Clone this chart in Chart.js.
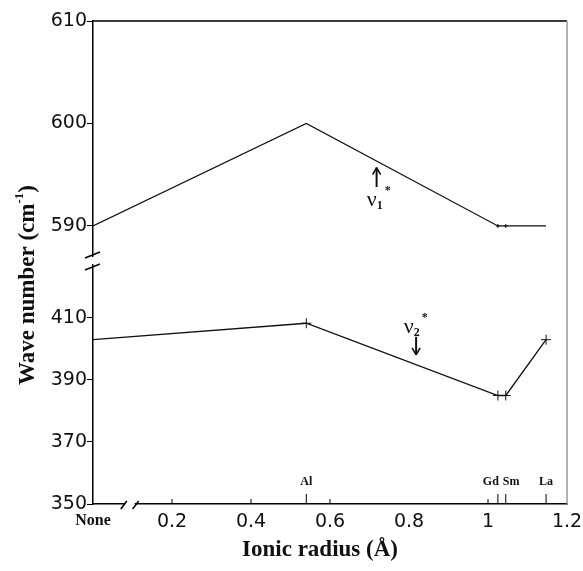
<!DOCTYPE html>
<html><head><meta charset="utf-8">
<script src="https://cdn.jsdelivr.net/npm/chart.js@4/dist/chart.umd.min.js"></script>
<style>html,body{margin:0;padding:0;background:#fff;}#wrap{width:583px;height:571px;position:relative;}</style>
</head><body><div id="wrap"><canvas id="c"></canvas></div>
<script>
// ---- data ----
const ionNames = ["None", "Al", "Gd", "Sm", "La"];
const ionicRadius = [0, 0.54, 1.025, 1.045, 1.147];
const nu1Values = [590, 600, 590, 590, 590];
const nu2Values = [403, 408.3, 385, 385, 403];
const xTickValues = [0, 0.2, 0.4, 0.6, 0.8, 1.0, 1.2];
const xTickLabels = ["None", "0.2", "0.4", "0.6", "0.8", "1", "1.2"];
const innerTicks = [0.2, 0.4, 0.6, 1.0];
const yTopTicks = [590, 600, 610];
const yBottomTicks = [350, 370, 390, 410];
const ionLabelAlign = ["center", "center", "right", "left", "center"];
const xTitle = "Ionic radius (Å)";
const yTitle = ["Wave number (cm", "-1", ")"];

const BLACK = '#111';
const numFont = {family: 'DejaVu Sans', size: 19, weight: 'normal'};

function line(ctx, x1, y1, x2, y2) { ctx.beginPath(); ctx.moveTo(x1, y1); ctx.lineTo(x2, y2); ctx.stroke(); }

function drawNu(ctx, px, py, sub) {
  ctx.fillStyle = BLACK;
  ctx.textAlign = 'left'; ctx.textBaseline = 'alphabetic';
  ctx.font = '22px "Liberation Serif"';
  ctx.fillText('ν', px, py + 6);
  const w = ctx.measureText('ν').width;
  ctx.font = 'bold 12px "Liberation Serif"';
  ctx.fillText(sub, px + w, py + 9);
  const w2 = ctx.measureText(sub).width;
  ctx.fillText('*', px + w + w2 + 2, py - 6);
}
function arrow(ctx, x, y1, y2) {
  ctx.strokeStyle = BLACK; ctx.lineWidth = 2;
  line(ctx, x, y1, x, y2);
  const d = y2 > y1 ? -1 : 1;
  ctx.lineWidth = 1.6;
  line(ctx, x, y2, x - 4, y2 + d * 7);
  line(ctx, x, y2, x + 4, y2 + d * 7);
}

const deco = {
  id: 'deco',
  afterDraw(chart) {
    const {ctx, chartArea: a, scales} = chart;
    const x = scales.x, yT = scales.yTop, yB = scales.yBot;
    ctx.save();
    ctx.strokeStyle = '#000'; ctx.lineWidth = 1.5;
    line(ctx, a.left, a.top, a.right, a.top);
    ctx.strokeStyle = '#9a9a9a'; ctx.lineWidth = 1.5;
    line(ctx, a.right, a.top, a.right, a.bottom);
    // y-axis break
    const by = yT.bottom;
    ctx.fillStyle = '#fff'; ctx.fillRect(a.left - 3, by - 3, 6, 7);
    ctx.strokeStyle = '#000'; ctx.lineWidth = 1.5;
    [by - 5, by + 7].forEach(c => line(ctx, a.left - 8, c + 3, a.left + 7, c - 3));
    // x-axis break
    const bx1 = x.getPixelForValue(0.078), bx2 = x.getPixelForValue(0.108);
    ctx.fillStyle = '#fff'; ctx.fillRect(bx1 + 1, a.bottom - 3, bx2 - bx1 - 2, 6);
    [bx1, bx2].forEach(c => line(ctx, c - 3, a.bottom + 5, c + 3, a.bottom - 3));
    // inner ticks
    ctx.strokeStyle = '#000'; ctx.lineWidth = 1;
    innerTicks.forEach(v => { const p = x.getPixelForValue(v); line(ctx, p, a.bottom, p, a.bottom - 5); });
    ctx.font = 'bold 12px "Liberation Serif"';
    ctx.fillStyle = BLACK; ctx.textBaseline = 'alphabetic';
    ionicRadius.forEach((v, i) => {
      if (i === 0) return;
      const p = x.getPixelForValue(v);
      line(ctx, p, a.bottom, p, a.bottom - 10);
      const al = ionLabelAlign[i];
      ctx.textAlign = al;
      const off = al === 'right' ? 1 : (al === 'left' ? -3 : 0);
      ctx.fillText(ionNames[i], p + off, a.bottom - 19);
    });
    // annotations
    arrow(ctx, x.getPixelForValue(0.718), yT.getPixelForValue(593.8), yT.getPixelForValue(595.7));
    drawNu(ctx, x.getPixelForValue(0.693), yT.getPixelForValue(592.5), '1');
    arrow(ctx, x.getPixelForValue(0.818), yB.getPixelForValue(403.9), yB.getPixelForValue(398.1));
    drawNu(ctx, x.getPixelForValue(0.787), yB.getPixelForValue(407.1), '2');
    // x title
    ctx.font = 'bold 23px "Liberation Serif"';
    ctx.textAlign = 'center'; ctx.textBaseline = 'middle';
    ctx.fillText(xTitle, 320, 550);
    // y title
    ctx.save();
    ctx.translate(28, 285);
    ctx.rotate(-Math.PI / 2);
    ctx.fillStyle = BLACK; ctx.textBaseline = 'middle'; ctx.textAlign = 'left';
    const f1 = 'bold 23px "Liberation Serif"', f2 = 'bold 13px "Liberation Serif"';
    ctx.font = f1; const w1 = ctx.measureText(yTitle[0]).width; const w3 = ctx.measureText(yTitle[2]).width;
    ctx.font = f2; const w2 = ctx.measureText(yTitle[1]).width;
    const sx = -(w1 + w2 + w3) / 2;
    ctx.font = f1; ctx.fillText(yTitle[0], sx, 0);
    ctx.font = f2; ctx.fillText(yTitle[1], sx + w1, -8);
    ctx.font = f1; ctx.fillText(yTitle[2], sx + w1 + w2, 0);
    ctx.restore();
    ctx.restore();
  }
};

const zeroPad = s => { s.paddingLeft = 0; s.paddingRight = 0; s.paddingTop = 0; s.paddingBottom = 0; };

const yCommon = (ticksArr) => ({
  type: 'linear', position: 'left', stack: 'v',
  afterBuildTicks: s => { s.ticks = ticksArr.map(v => ({value: v})); },
  afterFit: s => { s.width = 93; zeroPad(s); },
  ticks: {font: numFont, color: BLACK, padding: 0, callback: v => String(v)},
  grid: {drawOnChartArea: false, tickLength: 6, color: '#000', lineWidth: 1},
  border: {display: true, color: '#000', width: 1.5}
});

new Chart(document.getElementById('c'), {
  type: 'line',
  data: {
    datasets: [
      {
        label: 'ν1*',
        data: ionicRadius.map((r, i) => ({x: r, y: nu1Values[i]})),
        yAxisID: 'yTop',
        borderColor: BLACK, borderWidth: 1.3, fill: false, tension: 0,
        pointStyle: 'cross',
        pointRadius: ctx => (ionNames[ctx.dataIndex] === 'Gd' || ionNames[ctx.dataIndex] === 'Sm') ? 2 : 0,
        pointBorderColor: BLACK, pointBorderWidth: 1
      },
      {
        label: 'ν2*',
        data: ionicRadius.map((r, i) => ({x: r, y: nu2Values[i]})),
        yAxisID: 'yBot',
        borderColor: BLACK, borderWidth: 1.3, fill: false, tension: 0,
        pointStyle: 'cross',
        pointRadius: ctx => ctx.dataIndex === 0 ? 0 : 5,
        pointBorderColor: BLACK, pointBorderWidth: 1
      }
    ]
  },
  options: {
    responsive: true, maintainAspectRatio: false, animation: false,
    layout: {padding: {left: 0, right: 16, top: 21, bottom: 0}, autoPadding: false},
    plugins: {legend: {display: false}, tooltip: {enabled: false}},
    scales: {
      x: {
        type: 'linear', min: 0, max: 1.2,
        afterBuildTicks: s => { s.ticks = xTickValues.map(v => ({value: v})); },
        afterFit: s => { s.height = 67; zeroPad(s); },
        ticks: {
          autoSkip: false, maxRotation: 0, padding: 7, color: BLACK,
          callback: (v, i) => xTickLabels[i],
          font: c => c.index === 0 ? {family: 'Liberation Serif', weight: 'bold', size: 16} : numFont
        },
        grid: {drawOnChartArea: false, drawTicks: false},
        border: {display: true, color: '#000', width: 1.5}
      },
      yBot: Object.assign(yCommon(yBottomTicks), {min: 350, max: 428.7, stackWeight: 244}),
      yTop: Object.assign(yCommon(yTopTicks), {min: 586.68, max: 610, stackWeight: 239})
    }
  },
  plugins: [deco]
});
</script>
</body></html>
